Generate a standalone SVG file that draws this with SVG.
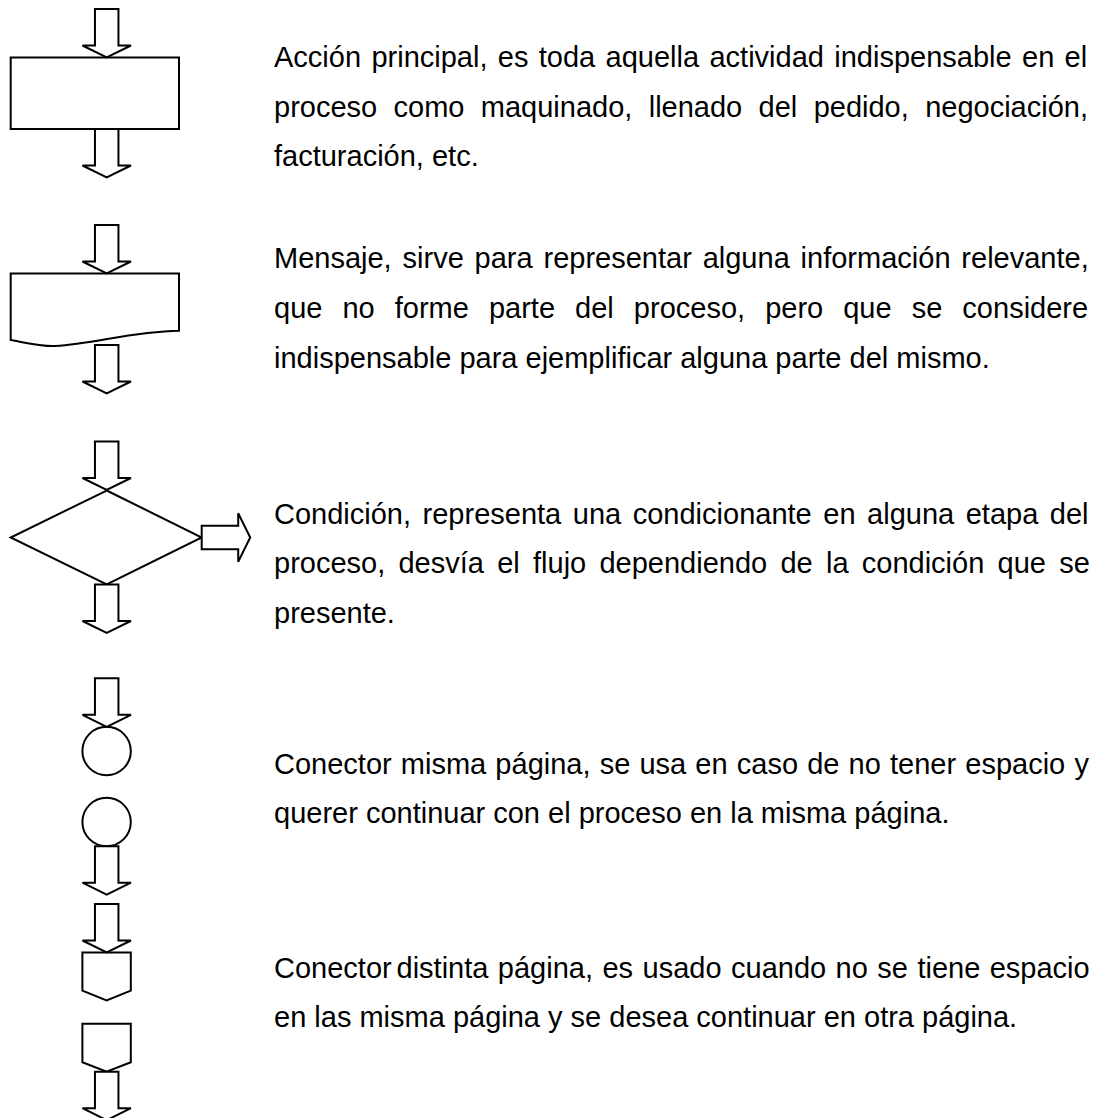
<svg xmlns="http://www.w3.org/2000/svg" xmlns:xlink="http://www.w3.org/1999/xlink" width="1101" height="1118" viewBox="0 0 1101 1118">
  <style>
    .shape { fill: #ffffff; stroke: #000000; stroke-width: 2; stroke-linejoin: miter; }
    .desc { font-family: "Liberation Sans", Arial, sans-serif; font-size: 29px; fill: #000000; }
  </style>
  <defs>
    <!-- block arrow pointing down, origin at the middle of its top edge -->
    <path id="block-arrow" class="shape" d="M -11.75 0 H 11.75 V 36.5 H 24.25 L 0 48.5 L -24.25 36.5 H -11.75 Z"/>
  </defs>
  <rect width="1101" height="1118" fill="#ffffff"/>

  <!-- symbols -->
  <g id="node-process">
    <rect class="shape" x="10.7" y="57.5" width="168.3" height="71.5"/>
  </g>
  <g id="node-document">
    <path class="shape" d="M 10.7 273.5 H 179 V 330.7 C 130 331.5 95 344 55 346 C 40 346.5 25 342.5 10.7 340 Z"/>
  </g>
  <g id="node-decision">
    <path class="shape" d="M 106.7 490.5 L 201.7 537.5 L 106.7 584.5 L 10.7 537.5 Z"/>
  </g>
  <g id="node-connector-in">
    <circle class="shape" cx="106.6" cy="751" r="24.2"/>
  </g>
  <g id="node-connector-out">
    <circle class="shape" cx="106.6" cy="822" r="24.2"/>
  </g>
  <g id="node-offpage-in">
    <path class="shape" d="M 82.4 952.5 H 130.8 V 990.7 L 106.6 1000.5 L 82.4 990.7 Z"/>
  </g>
  <g id="node-offpage-out">
    <path class="shape" d="M 82.4 1023.7 H 130.8 V 1062.3 L 106.6 1071.7 L 82.4 1062.3 Z"/>
  </g>

  <!-- flow arrows -->
  <g id="connectors">
    <use xlink:href="#block-arrow" href="#block-arrow" transform="translate(106.7 9)"/>
    <use xlink:href="#block-arrow" href="#block-arrow" transform="translate(106.7 129)"/>
    <use xlink:href="#block-arrow" href="#block-arrow" transform="translate(106.7 225)"/>
    <use xlink:href="#block-arrow" href="#block-arrow" transform="translate(106.7 345)"/>
    <use xlink:href="#block-arrow" href="#block-arrow" transform="translate(106.7 441.5)"/>
    <use xlink:href="#block-arrow" href="#block-arrow" transform="translate(106.7 584.5)"/>
    <use xlink:href="#block-arrow" href="#block-arrow" transform="translate(106.7 678.3)"/>
    <use xlink:href="#block-arrow" href="#block-arrow" transform="translate(106.7 846.2)"/>
    <use xlink:href="#block-arrow" href="#block-arrow" transform="translate(106.7 904)"/>
    <use xlink:href="#block-arrow" href="#block-arrow" transform="translate(106.7 1071.7)"/>
    <use xlink:href="#block-arrow" href="#block-arrow" transform="translate(201.7 537.5) rotate(-90)"/>
  </g>

  <!-- descriptions, justified to x = 274..1089 -->
  <g id="text-process" class="desc">
    <text x="274" y="66.8" word-spacing="2.3">Acción principal, es toda aquella actividad indispensable en el</text>
    <text x="274" y="116.6" word-spacing="8.3">proceso como maquinado, llenado del pedido, negociación,</text>
    <text x="274" y="166.4">facturación, etc.</text>
  </g>
  <g id="text-document" class="desc">
    <text x="274" y="268.3" word-spacing="2.8">Mensaje, sirve para representar alguna información relevante,</text>
    <text x="274" y="318.3" word-spacing="12">que no forme parte del proceso, pero que se considere</text>
    <text x="274" y="368.3">indispensable para ejemplificar alguna parte del mismo.</text>
  </g>
  <g id="text-decision" class="desc">
    <text x="274" y="523.6" word-spacing="3.5">Condición, representa una condicionante en alguna etapa del</text>
    <text x="274" y="573.2" word-spacing="5.2">proceso, desvía el flujo dependiendo de la condición que se</text>
    <text x="274" y="622.8">presente.</text>
  </g>
  <g id="text-connector" class="desc">
    <text x="274" y="774" word-spacing="1.1">Conector misma página, se usa en caso de no tener espacio y</text>
    <text x="274" y="823">querer continuar con el proceso en la misma página.</text>
  </g>
  <g id="text-offpage" class="desc">
    <text x="274" y="978.3" word-spacing="1.4"><tspan>Conector</tspan><tspan x="396.5">distinta página, es usado cuando no se tiene espacio</tspan></text>
    <text x="274" y="1027">en las misma página y se desea continuar en otra página.</text>
  </g>
</svg>
